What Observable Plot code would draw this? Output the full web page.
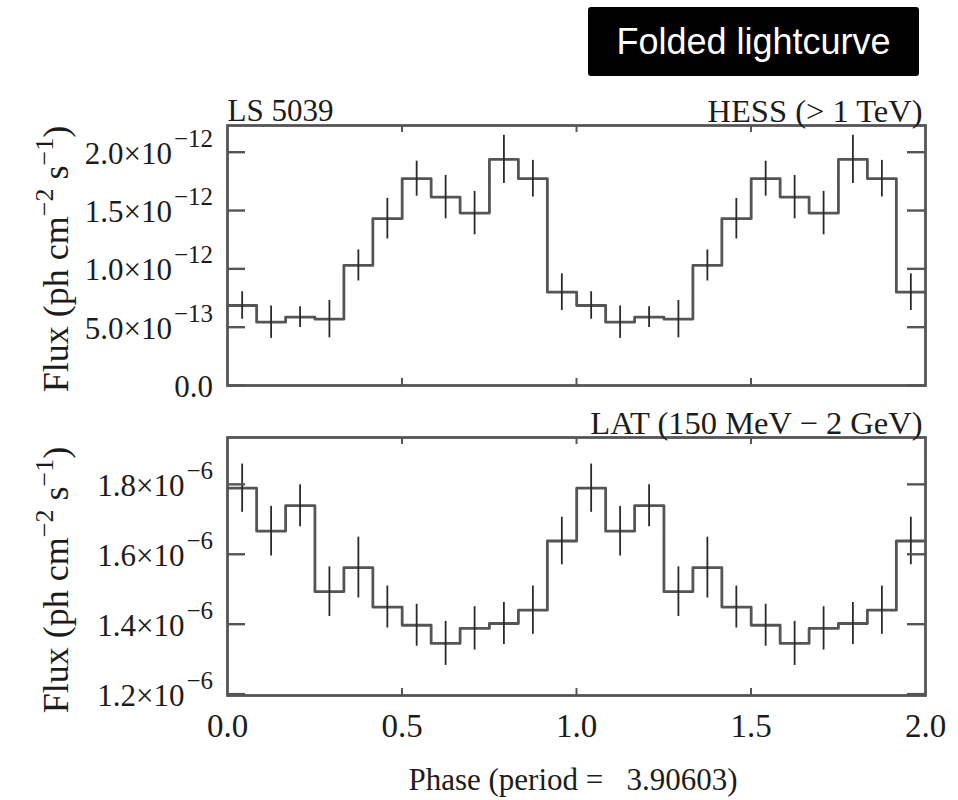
<!DOCTYPE html>
<html><head><meta charset="utf-8">
<script src="https://cdn.jsdelivr.net/npm/d3@7"></script>
<script src="https://cdn.jsdelivr.net/npm/@observablehq/plot@0.6"></script>
<style>
body{margin:0;background:#fff;}
#wrap{position:relative;width:958px;height:800px;overflow:hidden;background:#fff;}
#title{position:absolute;z-index:2;left:588px;top:7px;width:331px;height:69px;background:#000;border-radius:3px;color:#fff;font-family:"Liberation Sans",Arial,sans-serif;font-size:36px;display:flex;align-items:center;justify-content:center;line-height:1;}
</style></head><body>
<div id="wrap"><div id="title">Folded lightcurve</div></div>
<script>
// bin centres (phase), two folded cycles
const phase = [0.042, 0.125, 0.208, 0.292, 0.375, 0.458, 0.542, 0.625, 0.708, 0.792, 0.875, 0.958,
               1.042, 1.125, 1.208, 1.292, 1.375, 1.458, 1.542, 1.625, 1.708, 1.792, 1.875, 1.958];
// HESS flux, units of 1e-12 ph cm^-2 s^-1
const hessFlux = [0.686, 0.543, 0.586, 0.569, 1.029, 1.430, 1.773, 1.615, 1.478, 1.938, 1.773, 0.800,
                  0.686, 0.543, 0.586, 0.569, 1.029, 1.430, 1.773, 1.615, 1.478, 1.938, 1.773, 0.800];
const hessErr  = [0.118, 0.139, 0.089, 0.160, 0.133, 0.174, 0.150, 0.186, 0.186, 0.207, 0.157, 0.157,
                  0.118, 0.139, 0.089, 0.160, 0.133, 0.174, 0.150, 0.186, 0.186, 0.207, 0.157, 0.157];
// LAT flux, units of 1e-6 ph cm^-2 s^-1
const latFlux = [1.789, 1.666, 1.739, 1.493, 1.562, 1.449, 1.397, 1.345, 1.388, 1.402, 1.440, 1.638,
                 1.789, 1.666, 1.739, 1.493, 1.562, 1.449, 1.397, 1.345, 1.388, 1.402, 1.440, 1.638];
const latErr  = [0.069, 0.071, 0.060, 0.071, 0.087, 0.060, 0.060, 0.063, 0.062, 0.060, 0.069, 0.068,
                 0.069, 0.071, 0.060, 0.071, 0.087, 0.060, 0.060, 0.063, 0.062, 0.060, 0.069, 0.068];

const hessTicks = [0, 0.5, 1.0, 1.5, 2.0];
const hessTickLabels = [["0.0", ""], ["5.0×10", "−13"], ["1.0×10", "−12"], ["1.5×10", "−12"], ["2.0×10", "−12"]];
const latTicks = [1.2, 1.4, 1.6, 1.8];
const latTickLabels = [["1.2×10", "−6"], ["1.4×10", "−6"], ["1.6×10", "−6"], ["1.8×10", "−6"]];
const phaseTicks = [0, 0.5, 1.0, 1.5, 2.0];
const phaseTickLabels = ["0.0", "0.5", "1.0", "1.5", "2.0"];

const SERIF = '"Liberation Serif","Times New Roman",serif';
const INK = "#1c1c1c";
const W = 958, ML = 227, MR = 33;

function panel(o) {
  const fw = W - ML - MR, fh = o.height - o.mt - o.mb;
  const half = (phase[1] - phase[0]) / 2;
  const rows = phase.map((p, i) => ({p, v: o.flux[i], e: o.err[i]}));
  const last = rows[rows.length - 1];
  const steps = rows.map(d => ({x: d.p - half, v: d.v})).concat([{x: last.p + half, v: last.v}]);
  const inner = phaseTicks.filter(t => t > 0 && t < 2);
  const marks = [
    Plot.line(steps, {x: "x", y: "v", curve: "step-after", stroke: "#555", strokeWidth: 2.8}),
    Plot.ruleX(rows, {x: "p", y1: d => d.v - d.e, y2: d => d.v + d.e, stroke: "#2a2a2a", strokeWidth: 1.8}),
    Plot.tickY(o.ticks, {y: d => d, insetRight: fw - 18, stroke: "#555", strokeWidth: 2.4}),
    Plot.tickY(o.ticks, {y: d => d, insetLeft: fw - 18, stroke: "#555", strokeWidth: 2.4}),
    Plot.tickX(inner, {x: d => d, insetBottom: fh - 7, stroke: "#555", strokeWidth: 2}),
    Plot.tickX(inner, {x: d => d, insetTop: fh - 7, stroke: "#555", strokeWidth: 2}),
    Plot.frame({stroke: "#555", strokeWidth: 2.8}),
  ];
  if (o.labelLeft) marks.push(Plot.text([o.labelLeft], {text: d => d, frameAnchor: "top-left", dy: -5, textAnchor: "start", lineAnchor: "bottom", fontSize: 31, fill: INK}));
  if (o.labelRight) marks.push(Plot.text([o.labelRight], {text: d => d, frameAnchor: "top-right", dy: -4, dx: -3, textAnchor: "end", lineAnchor: "bottom", fontSize: 32.5, fill: INK}));
  if (o.xLabels) marks.push(Plot.text(phaseTicks, {x: d => d, text: (d, i) => phaseTickLabels[i], frameAnchor: "bottom", dy: 41, lineAnchor: "bottom", fontSize: 33, fill: INK}));

  const svgEl = Plot.plot({
    width: W, height: o.height,
    marginLeft: ML, marginRight: MR, marginTop: o.mt, marginBottom: o.mb,
    x: {domain: [0, 2], axis: null},
    y: {domain: o.domain, axis: null},
    style: {fontFamily: SERIF, background: "transparent", color: INK},
    marks
  });
  const svg = d3.select(svgEl);
  const ys = svgEl.scale("y");
  o.ticks.forEach((v, i) => {
    const t = svg.append("text").attr("x", ML - 14).attr("y", ys.apply(v) + 12)
      .attr("text-anchor", "end").attr("font-size", 31).attr("fill", INK).attr("font-family", SERIF);
    t.append("tspan").text(o.tickLabels[i][0]);
    if (o.tickLabels[i][1]) t.append("tspan").attr("dx", 2).attr("dy", -17).attr("font-size", 25).text(o.tickLabels[i][1]);
  });
  // y-axis title with superscripts
  const cy = o.mt + fh / 2 + o.titleShift;
  const yt = svg.append("text").attr("transform", `translate(68,${cy}) rotate(-90)`)
    .attr("text-anchor", "middle").attr("font-size", 36).attr("fill", INK).attr("font-family", SERIF);
  yt.append("tspan").text("Flux (ph cm");
  yt.append("tspan").attr("dy", -15).attr("font-size", 26).text("−2");
  yt.append("tspan").attr("dy", 15).text(" s");
  yt.append("tspan").attr("dy", -15).attr("font-size", 26).text("−1");
  yt.append("tspan").attr("dy", 15).text(")");
  if (o.xTitle) {
    svg.append("text").attr("x", ML + fw / 2 - 3).attr("y", o.height - 10)
      .attr("text-anchor", "middle").attr("font-size", 31).attr("fill", INK).attr("font-family", SERIF)
      .style("white-space", "pre").text(o.xTitle);
  }
  svgEl.style.position = "absolute";
  svgEl.style.left = "0px";
  svgEl.style.top = o.top + "px";
  return svgEl;
}

const wrap = document.getElementById("wrap");
wrap.appendChild(panel({
  top: 0, height: 410, mt: 125, mb: 25,
  flux: hessFlux, err: hessErr, domain: [0, 2.229],
  ticks: hessTicks, tickLabels: hessTickLabels,
  labelLeft: "LS 5039", labelRight: "HESS (> 1 TeV)", titleShift: 4
}));
wrap.appendChild(panel({
  top: 390, height: 410, mt: 47, mb: 105,
  flux: latFlux, err: latErr, domain: [1.196, 1.934],
  ticks: latTicks, tickLabels: latTickLabels,
  labelRight: "LAT (150 MeV − 2 GeV)", xLabels: true, titleShift: 14,
  xTitle: "Phase (period =   3.90603)"
}));
</script>
</body></html>
